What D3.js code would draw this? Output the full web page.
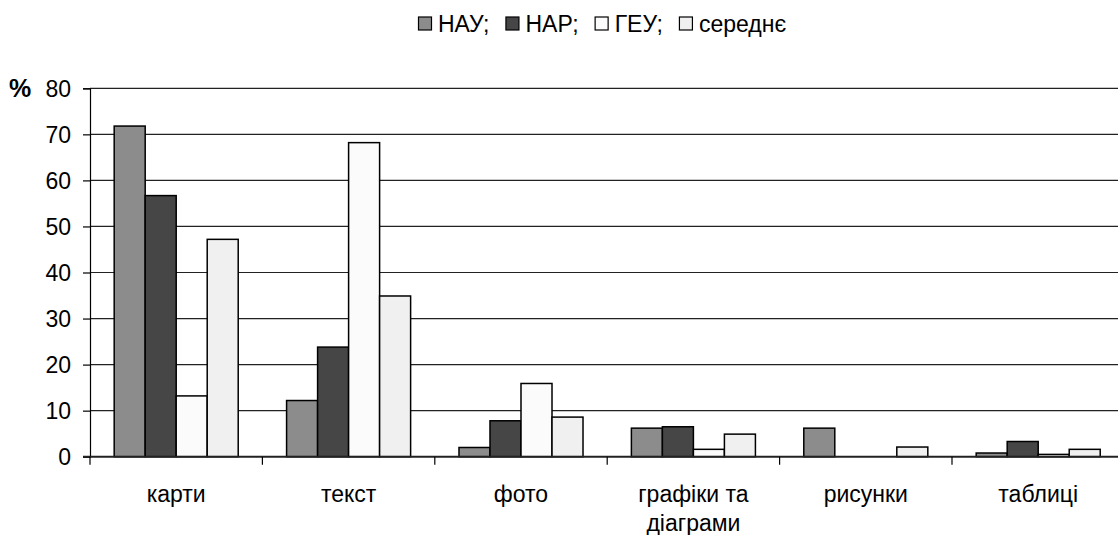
<!DOCTYPE html>
<html lang="uk">
<head>
  <meta charset="UTF-8">
  <title>Типи матеріалів</title>
  <script src="https://d3js.org/d3.v7.min.js"></script>
  <style>
    body { margin: 0; background: #fff; }
    svg { display: block; font-family: "Liberation Sans", Arial, sans-serif; }
    .tick-label { font-size: 23px; fill: #000; }
    .cat-label { font-size: 23px; fill: #000; }
    .legend text { font-size: 23px; fill: #000; }
  </style>
</head>
<body>
  <div id="chart"></div>
  <script>
    const categories = ['карти', 'текст', 'фото', 'графіки та|діаграми', 'рисунки', 'таблиці'];
    const seriesNames = ['НАУ', 'НАР', 'ГЕУ', 'середнє'];
    const nau = [71.8, 12.2, 2.0, 6.2, 6.2, 0.8];
    const nar = [56.7, 23.8, 7.8, 6.5, 0, 3.3];
    const geu = [13.2, 68.2, 15.9, 1.6, 0, 0.5];
    const avg = [47.2, 34.9, 8.6, 4.9, 2.1, 1.6];
    const yTicks = [0, 10, 20, 30, 40, 50, 60, 70, 80];
    const colors = ['#8c8c8c', '#464646', '#fbfbfb', '#f0f0f0'];

    const values = [nau, nar, geu, avg];
    const W = 1118, H = 535;
    const plotLeft = 90, bandW = 172.4, plotTop = 88.3, plotBottom = 456.7;

    const svg = d3.select('#chart').append('svg').attr('width', W).attr('height', H);

    const x0 = d3.scaleBand().domain(categories).range([plotLeft, plotLeft + bandW * categories.length]);
    const x1 = d3.scaleBand().domain(seriesNames).range([0, x0.bandwidth()]).paddingOuter(0.78);
    const y = d3.scaleLinear().domain([0, 80]).range([plotBottom, plotTop]);

    // сітка
    svg.append('g')
      .selectAll('line')
      .data(yTicks.filter(d => d > 0))
      .join('line')
      .attr('x1', plotLeft).attr('x2', W)
      .attr('y1', d => y(d)).attr('y2', d => y(d))
      .attr('stroke', '#222').attr('stroke-width', 1.2);

    // вісь Y
    const yAxis = svg.append('g')
      .attr('transform', `translate(${plotLeft},0)`)
      .call(d3.axisLeft(y).tickValues(yTicks).tickSize(7).tickPadding(12));
    yAxis.select('.domain').attr('stroke', '#000').attr('stroke-width', 1.2);
    yAxis.selectAll('.tick line').attr('stroke', '#000').attr('stroke-width', 1.2);
    yAxis.selectAll('.tick text').attr('class', 'tick-label').attr('dy', '0.36em');
    yAxis.attr('font-size', null).attr('font-family', null);

    svg.append('text')
      .attr('x', 9).attr('y', y(80) + 8.5)
      .attr('font-size', 25).attr('font-weight', 'bold')
      .text('%');

    // стовпці
    const groups = svg.append('g')
      .selectAll('g')
      .data(categories)
      .join('g')
      .attr('transform', d => `translate(${x0(d)},0)`);

    groups.selectAll('rect')
      .data((c, i) => seriesNames.map((s, j) => ({ s, v: values[j][i], j })))
      .join('rect')
      .attr('x', d => x1(d.s))
      .attr('width', x1.bandwidth())
      .attr('y', d => y(d.v))
      .attr('height', d => y(0) - y(d.v))
      .attr('fill', d => colors[d.j])
      .attr('stroke', '#000')
      .attr('stroke-width', 1.5);

    // вісь X
    const xAxis = svg.append('g').attr('transform', `translate(0,${plotBottom})`);
    xAxis.append('line')
      .attr('x1', plotLeft - 7).attr('x2', W)
      .attr('stroke', '#222').attr('stroke-width', 2);
    xAxis.selectAll('.xt')
      .data(categories)
      .join('line')
      .attr('class', 'xt')
      .attr('x1', d => x0(d)).attr('x2', d => x0(d))
      .attr('y1', 0).attr('y2', 8)
      .attr('stroke', '#000').attr('stroke-width', 1.2);

    xAxis.selectAll('.cat-label')
      .data(categories)
      .join('text')
      .attr('class', 'cat-label')
      .attr('text-anchor', 'middle')
      .attr('transform', d => `translate(${x0(d) + x0.bandwidth() / 2},45)`)
      .selectAll('tspan')
      .data(d => d.split('|'))
      .join('tspan')
      .attr('x', 0)
      .attr('dy', (d, i) => i === 0 ? 0 : 29)
      .text(d => d);

    // легенда
    const legend = svg.append('g').attr('class', 'legend');
    let lx = 0;
    seriesNames.forEach((s, i) => {
      const item = legend.append('g').attr('transform', `translate(${lx},0)`);
      item.append('rect')
        .attr('x', 0.5).attr('y', 17).attr('width', 13).attr('height', 13)
        .attr('fill', colors[i]).attr('stroke', '#000').attr('stroke-width', 1.2);
      const t = item.append('text')
        .attr('x', 20).attr('y', 31.5)
        .text(i < seriesNames.length - 1 ? s + ';' : s);
      lx += 20 + t.node().getComputedTextLength() + 16;
    });
    legend.attr('transform', 'translate(418,0)');
  </script>
</body>
</html>
